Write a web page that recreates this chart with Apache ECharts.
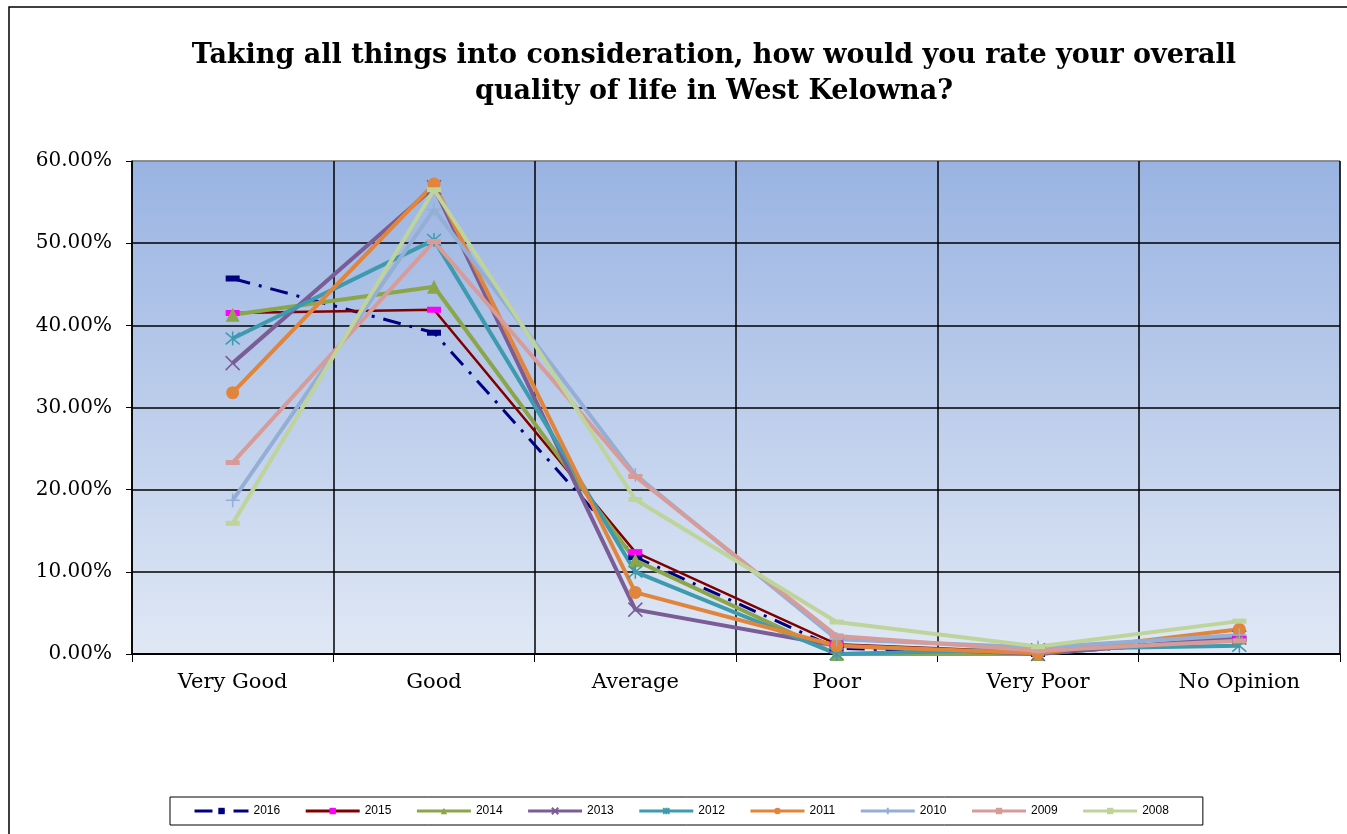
<!DOCTYPE html>
<html>
<head>
<meta charset="utf-8">
<title>Quality of life in West Kelowna</title>
<script src="https://cdn.jsdelivr.net/npm/echarts@6/dist/echarts.min.js"></script>
<style>
  html, body { margin: 0; padding: 0; background: #fff; }
  #chart { width: 1347px; height: 834px; }
</style>
</head>
<body>
<div id="chart"></div>
<script>
// rating categories and the share answering each one, by survey year (%)
const categories = ['Very Good', 'Good', 'Average', 'Poor', 'Very Poor', 'No Opinion']
const years = ['2016', '2015', '2014', '2013', '2012', '2011', '2010', '2009', '2008']

const y2016 = [45.7, 39.1, 11.8, 0.7, 0.0, 1.8]
const y2015 = [41.5, 41.9, 12.4, 1.2, 0.2, 1.9]
const y2014 = [41.3, 44.7, 11.4, 0.0, 0.0, 2.0]
const y2013 = [35.4, 56.8, 5.4, 1.0, 0.0, 2.0]
const y2012 = [38.4, 50.4, 10.0, 0.0, 0.6, 1.0]
const y2011 = [31.8, 57.2, 7.5, 1.0, 0.1, 3.0]
const y2010 = [18.7, 54.1, 21.8, 1.8, 0.8, 2.3]
const y2009 = [23.3, 50.2, 21.6, 2.2, 0.4, 1.6]
const y2008 = [15.9, 56.5, 18.8, 3.9, 0.9, 4.0]

const yTicks = [0, 10, 20, 30, 40, 50, 60]

const chart = echarts.init(document.getElementById('chart'))

// stroked marker shapes (Excel style x / star / plus)
const X_MARK = 'path://M0,0L10,10M10,0L0,10'
const STAR_MARK = 'path://M0,0L10,10M10,0L0,10M5,-1L5,11'
const PLUS_MARK = 'path://M5,0L5,10M0,5L10,5'

function line(name, data, color, opts) {
  const o = opts || {}
  const markColor = o.markColor || color
  return {
    name,
    type: 'line',
    data,
    symbol: o.symbol || 'rect',
    symbolSize: o.size || [14, 5],
    showSymbol: true,
    lineStyle: { color, width: o.width || 4, type: o.dash || 'solid' },
    itemStyle: o.stroke
      ? { color: markColor, borderColor: markColor, borderWidth: 1.5 }
      : { color: markColor, borderWidth: 0 },
    emphasis: { disabled: true },
    animation: false,
  }
}

chart.setOption({
  backgroundColor: '#fff',
  graphic: [
    {
      type: 'rect',
      shape: { x: 9, y: 7, width: 1400, height: 900 },
      style: { fill: 'none', stroke: '#000', lineWidth: 1.5 },
      silent: true,
    },
    {
      type: 'text',
      x: 714,
      y: 38,
      style: {
        text: 'Taking all things into consideration, how would you rate your overall\nquality of life in West Kelowna?',
        font: 'bold 27px "DejaVu Serif"',
        fill: '#000',
        textAlign: 'center',
        lineHeight: 36,
      },
      silent: true,
    },
  ],
  legend: {
    data: years,
    left: 170,
    top: 797,
    padding: [8, 34, 8, 23],
    itemWidth: 54,
    itemHeight: 8,
    itemGap: 24,
    borderColor: '#000',
    borderWidth: 1,
    lineStyle: { width: 3 },
    textStyle: { fontFamily: '"Liberation Sans", Arial', fontSize: 12, color: '#000' },
    selectedMode: false,
  },
  grid: {
    left: 132,
    top: 161,
    right: 7,
    bottom: 180,
    show: true,
    borderColor: '#808080',
    borderWidth: 1,
    backgroundColor: new echarts.graphic.LinearGradient(0, 0, 0, 1, [
      { offset: 0, color: '#99b3e2' },
      { offset: 1, color: '#e0e8f5' },
    ]),
  },
  xAxis: {
    type: 'category',
    data: categories,
    boundaryGap: true,
    axisLine: { lineStyle: { color: '#000', width: 2 } },
    axisTick: { show: true, length: 8, lineStyle: { color: '#000' } },
    axisLabel: { color: '#000', fontFamily: '"DejaVu Serif"', fontSize: 21, margin: 18 },
    splitLine: {
      show: true,
      lineStyle: { color: '#000', width: 1.5 },
    },
  },
  yAxis: {
    type: 'value',
    min: yTicks[0],
    max: yTicks[yTicks.length - 1],
    interval: 10,
    axisLine: { show: true, lineStyle: { color: '#000', width: 1.5 } },
    axisTick: { show: true, length: 6, lineStyle: { color: '#000' } },
    axisLabel: {
      color: '#000',
      fontFamily: '"DejaVu Serif"',
      fontSize: 20,
      margin: 20,
      formatter: v => v.toFixed(2) + '%',
    },
    splitLine: {
      show: true,
      lineStyle: { color: ['#000', '#000', '#000', '#000', '#000', '#000', '#808080'], width: 1.5 },
    },
  },
  series: [
    line('2016', y2016, '#000080', { width: 3, dash: [18, 9, 3, 9], size: [14, 6] }),
    line('2015', y2015, '#800000', { width: 2.5, markColor: '#ff00ff', size: [14, 6] }),
    line('2014', y2014, '#8ba64a', { symbol: 'triangle', size: 14 }),
    line('2013', y2013, '#7a5c96', { symbol: X_MARK, size: 14, stroke: true }),
    line('2012', y2012, '#3e9aae', { symbol: STAR_MARK, size: 14, stroke: true }),
    line('2011', y2011, '#e0853b', { symbol: 'circle', size: 13 }),
    line('2010', y2010, '#94aed5', { symbol: PLUS_MARK, size: 14, stroke: true }),
    line('2009', y2009, '#d79b98', { size: [14, 5] }),
    line('2008', y2008, '#bfd49a', { size: [14, 5] }),
  ],
})
</script>
</body>
</html>
